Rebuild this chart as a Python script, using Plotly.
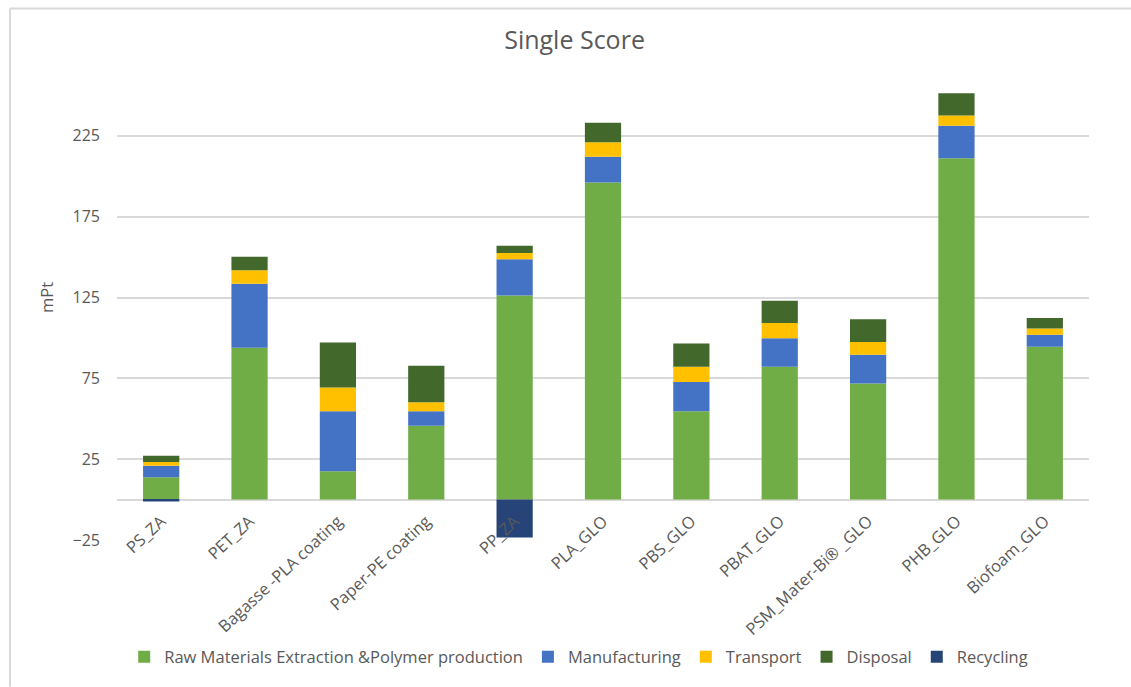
import plotly.graph_objects as go

# Product systems compared
categories = [
    "PS_ZA", "PET_ZA", "Bagasse -PLA coating", "Paper-PE coating", "PP_ZA",
    "PLA_GLO", "PBS_GLO", "PBAT_GLO", "PSM_Mater-Bi® _GLO", "PHB_GLO", "Biofoam_GLO",
]

# Single score contributions per life-cycle stage (mPt)
raw_materials = [13.8, 93.9, 17.5, 45.6, 126.3, 196.2, 54.6, 82.2, 71.8, 211.1, 94.5]
manufacturing = [7.2, 39.6, 37.1, 9.0, 22.3, 15.9, 18.2, 17.6, 17.8, 20.2, 7.5]
transport = [2.2, 8.3, 14.8, 5.6, 3.9, 9.0, 9.4, 9.4, 7.9, 6.3, 3.9]
disposal = [3.9, 8.4, 27.7, 22.6, 4.5, 12.0, 14.3, 13.8, 14.1, 13.7, 6.4]
recycling = [-1.2, 0, 0, 0, -23.4, 0, 0, 0, 0, 0, 0]

y_ticks = [-25, 25, 75, 125, 175, 225]

series = [
    ("Raw Materials Extraction &Polymer production", raw_materials, "#70AD47"),
    ("Manufacturing", manufacturing, "#4472C4"),
    ("Transport", transport, "#FFC000"),
    ("Disposal", disposal, "#43682B"),
    ("Recycling", recycling, "#264478"),
]

fig = go.Figure()
for name, vals, color in series:
    fig.add_trace(go.Bar(
        x=categories, y=vals, name=name,
        marker=dict(color=color, line=dict(width=0)),
    ))

W, H = 1131, 687
L, R, T, B = 117, 42, 55, 143
plot_w = W - L - R
plot_h = H - T - B
y_min, y_max = -25, 275
zero_frac = (0 - y_min) / (y_max - y_min)


def px_x(p):
    return (p - L) / plot_w


def px_y(p):
    return (H - B - p) / plot_h


text_color = "#595959"
grid_color = "#D9D9D9"
font_family = "Open Sans, Noto Sans, sans-serif"

fig.update_layout(
    width=W, height=H,
    margin=dict(l=L, r=R, t=T, b=B),
    barmode="relative",
    bargap=0.59,
    plot_bgcolor="white",
    paper_bgcolor="white",
    font=dict(family=font_family, color=text_color),
    title=dict(
        text="Single Score", x=0.508, xanchor="center",
        y=1 - 40 / H, yanchor="middle",
        font=dict(size=25, color=text_color),
    ),
    xaxis=dict(
        anchor="free", position=zero_frac,
        tickangle=-43, tickfont=dict(size=16.5, color=text_color),
        showgrid=False, showline=False, ticks="",
        ticklabelstandoff=8,
    ),
    yaxis=dict(
        range=[y_min, y_max], tickvals=y_ticks,
        tickfont=dict(size=16, color=text_color),
        showgrid=True, gridcolor=grid_color, gridwidth=1.5,
        zeroline=True, zerolinecolor=grid_color, zerolinewidth=1.5,
        ticklabelstandoff=16,
        title=dict(text="mPt", font=dict(size=16.5, color=text_color), standoff=14),
    ),
    legend=dict(
        orientation="h", x=0.475, xanchor="center",
        y=px_y(662), yanchor="middle",
        font=dict(size=16.5, color=text_color),
        itemwidth=30,
        traceorder="normal",
    ),
    showlegend=True,
)

# Outer chart frame
fig.add_shape(type="line", xref="paper", yref="paper",
              x0=px_x(10), x1=px_x(W + 5), y0=px_y(8), y1=px_y(8),
              line=dict(color=grid_color, width=2))
fig.add_shape(type="line", xref="paper", yref="paper",
              x0=px_x(10), x1=px_x(10), y0=px_y(8), y1=px_y(H + 5),
              line=dict(color=grid_color, width=2))

fig.write_html("out.html")
